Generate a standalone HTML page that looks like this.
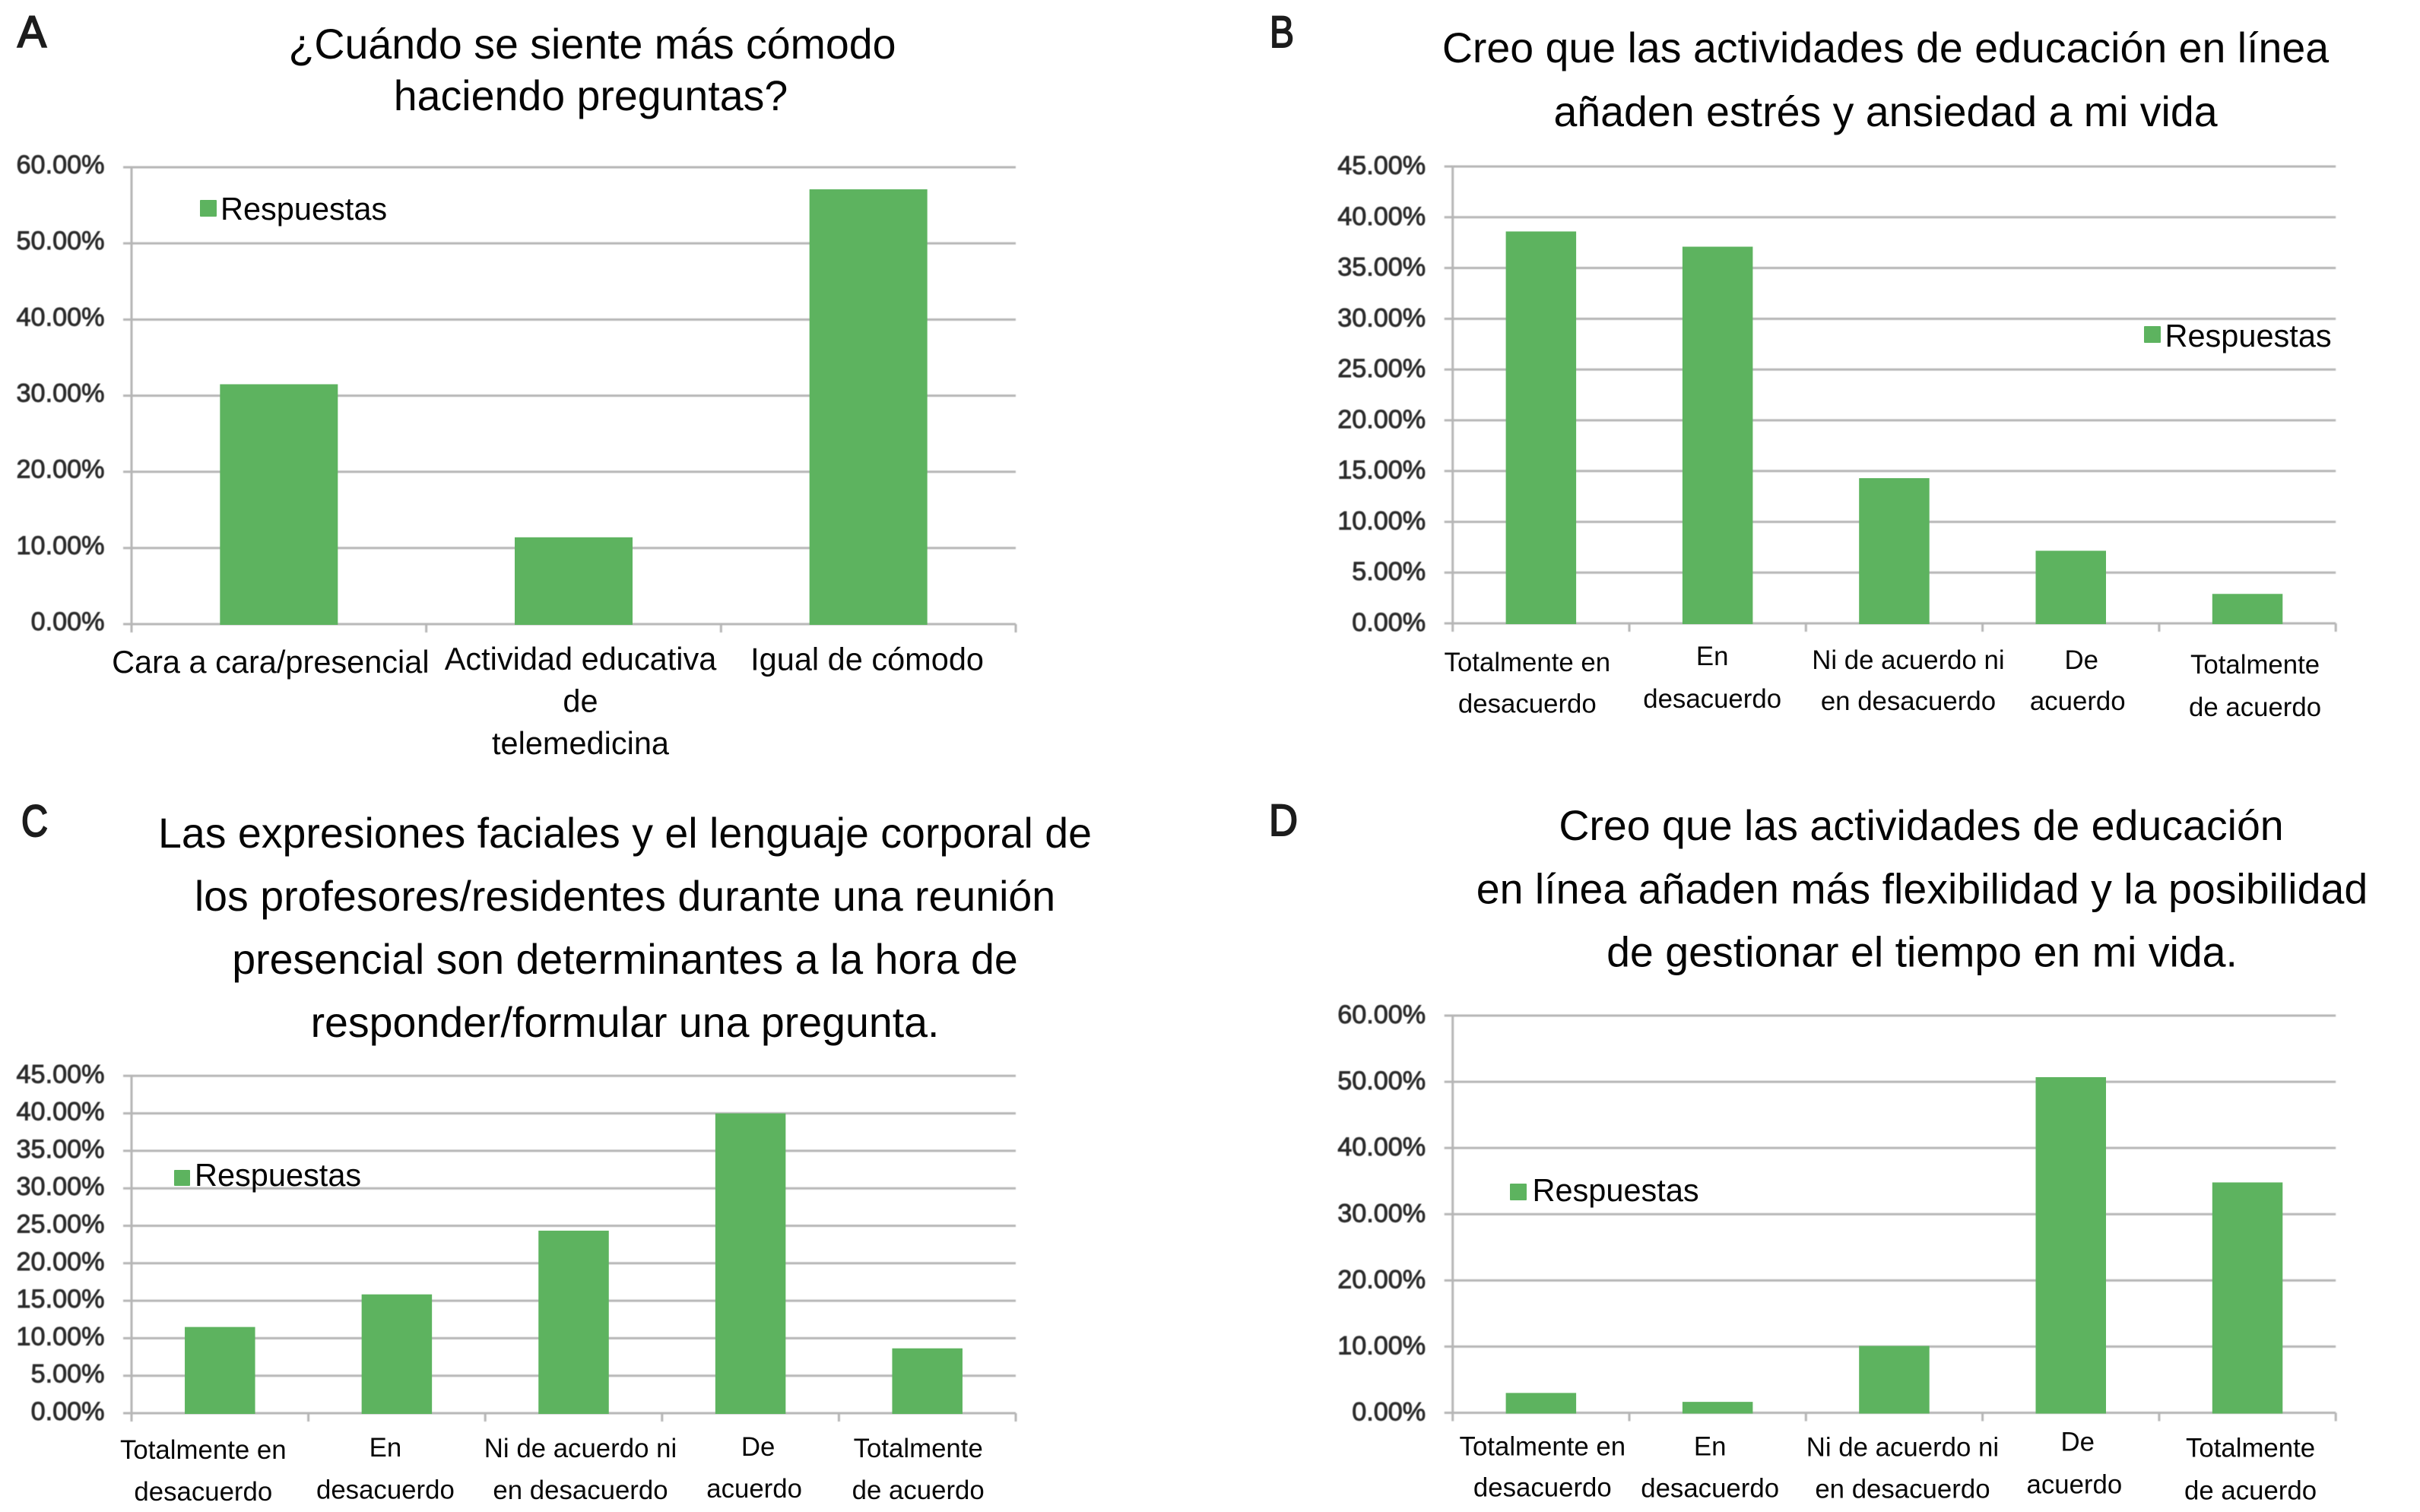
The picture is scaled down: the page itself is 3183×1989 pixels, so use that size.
<!DOCTYPE html>
<html lang="es">
<head>
<meta charset="utf-8">
<title>Encuesta de educación en línea</title>
<style>
html,body{margin:0;padding:0;background:#fff;width:3183px;height:1989px;overflow:hidden}
svg{display:block;font-family:"Liberation Sans",Arial,sans-serif}
.title{font-size:55.5px;fill:#050505;text-anchor:middle}
.panel{font-size:58px;fill:#1c1c1c;stroke:#1c1c1c;stroke-width:2px}
.legend{font-size:41.5px;fill:#050505}
.cat{fill:#080808;text-anchor:middle}
.tick{font-size:34.2px;fill:#2b2b2b;stroke:#2b2b2b;stroke-width:.9px;text-anchor:end}
.soft{filter:blur(.6px)}
</style>
</head>
<body>
<svg id="figure" xmlns="http://www.w3.org/2000/svg" width="3183" height="1989" viewBox="0 0 3183 1989">
  <rect x="0" y="0" width="3183" height="1989" fill="#fff"/>

  <g id="chart-a"></g>
  <g id="chart-b"></g>
  <g id="chart-c"></g>
  <g id="chart-d"></g>

  <text class="panel" x="23" y="62" textLength="38" lengthAdjust="spacingAndGlyphs">A</text>
  <text class="panel" x="1670" y="62" textLength="32" lengthAdjust="spacingAndGlyphs">B</text>
  <text class="panel" x="28" y="1100" textLength="35" lengthAdjust="spacingAndGlyphs">C</text>
  <text class="panel" x="1669" y="1099" textLength="38" lengthAdjust="spacingAndGlyphs">D</text>

  <g>
    <text class="title" x="779" y="77">¿Cuándo se siente más cómodo</text>
    <text class="title" x="777" y="145">haciendo preguntas?</text>
  </g>
  <g>
    <text class="title" x="2480" y="82">Creo que las actividades de educación en línea</text>
    <text class="title" x="2480" y="166">añaden estrés y ansiedad a mi vida</text>
  </g>
  <g>
    <text class="title" x="822" y="1115">Las expresiones faciales y el lenguaje corporal de</text>
    <text class="title" x="822" y="1198">los profesores/residentes durante una reunión</text>
    <text class="title" x="822" y="1281">presencial son determinantes a la hora de</text>
    <text class="title" x="822" y="1364">responder/formular una pregunta.</text>
  </g>
  <g>
    <text class="title" x="2527" y="1105">Creo que las actividades de educación</text>
    <text class="title" x="2528" y="1188.5">en línea añaden más flexibilidad y la posibilidad</text>
    <text class="title" x="2528" y="1271.5">de gestionar el tiempo en mi vida.</text>
  </g>

  <g>
    <rect x="263" y="263" width="22" height="22" rx="1" fill="#5DB35F"/>
    <text class="legend" x="290" y="289">Respuestas</text>
  </g>
  <g>
    <rect x="2820" y="429" width="22" height="22" rx="1" fill="#5DB35F"/>
    <text class="legend" x="2847.5" y="456">Respuestas</text>
  </g>
  <g>
    <rect x="229" y="1539" width="21" height="21" rx="1" fill="#5DB35F"/>
    <text class="legend" x="256" y="1560">Respuestas</text>
  </g>
  <g>
    <rect x="1986" y="1557" width="22" height="22" rx="1" fill="#5DB35F"/>
    <text class="legend" x="2015.5" y="1580">Respuestas</text>
  </g>
</svg>

<script>
const chartACategories = [['Cara a cara/presencial'], ['Actividad educativa', 'de', 'telemedicina'], ['Igual de cómodo']];
const chartAValues = [31.5, 11.4, 57.1];
const chartATickLabels = ['0.00%', '10.00%', '20.00%', '30.00%', '40.00%', '50.00%', '60.00%'];

const chartBCategories = [['Totalmente en', 'desacuerdo'], ['En', 'desacuerdo'], ['Ni de acuerdo ni', 'en desacuerdo'], ['De', 'acuerdo'], ['Totalmente', 'de acuerdo']];
const chartBValues = [38.6, 37.1, 14.3, 7.15, 2.9];
const chartBTickLabels = ['0.00%', '5.00%', '10.00%', '15.00%', '20.00%', '25.00%', '30.00%', '35.00%', '40.00%', '45.00%'];

const chartCCategories = [['Totalmente en', 'desacuerdo'], ['En', 'desacuerdo'], ['Ni de acuerdo ni', 'en desacuerdo'], ['De', 'acuerdo'], ['Totalmente', 'de acuerdo']];
const chartCValues = [11.5, 15.85, 24.35, 40.0, 8.65];
const chartCTickLabels = ['0.00%', '5.00%', '10.00%', '15.00%', '20.00%', '25.00%', '30.00%', '35.00%', '40.00%', '45.00%'];

const chartDCategories = [['Totalmente en', 'desacuerdo'], ['En', 'desacuerdo'], ['Ni de acuerdo ni', 'en desacuerdo'], ['De', 'acuerdo'], ['Totalmente', 'de acuerdo']];
const chartDValues = [3.0, 1.65, 10.1, 50.7, 34.8];
const chartDTickLabels = ['0.00%', '10.00%', '20.00%', '30.00%', '40.00%', '50.00%', '60.00%'];

const SVG_NS = 'http://www.w3.org/2000/svg';

function make(tag, attrs, parent) {
  const el = document.createElementNS(SVG_NS, tag);
  Object.keys(attrs).forEach(function (k) { el.setAttribute(k, attrs[k]); });
  parent.appendChild(el);
  return el;
}

function drawChart(id, categories, values, tickLabels, box, labelNudges) {
  const root = document.getElementById(id);
  const ticks = tickLabels.map(function (t) { return parseFloat(t); });
  const maxTick = Math.max.apply(null, ticks);
  const yScale = function (v) { return box.bottom - (v / maxTick) * (box.bottom - box.top); };
  const band = (box.right - box.left) / categories.length;
  const xCenter = function (i) { return box.left + band * (i + 0.5); };

  const gridGroup = make('g', { 'class': 'soft' }, root);
  
  
  ticks.forEach(function (t) {
    const line = make('line', { x1: box.left - 11, x2: box.right, y1: yScale(t), y2: yScale(t), stroke: '#b6b6b6', 'stroke-width': 3 }, gridGroup);
    
    
  });

  const axisGroup = make('g', { 'class': 'soft' }, root);
  
  
  const yAxis = make('line', { x1: box.left, x2: box.left, y1: box.top, y2: box.bottom + 11, stroke: '#b6b6b6', 'stroke-width': 3 }, axisGroup);
  
  
  for (let i = 1; i <= categories.length; i++) {
    const x = box.left + band * i;
    const tick = make('line', { x1: x, x2: x, y1: box.bottom, y2: box.bottom + 11, stroke: '#b6b6b6', 'stroke-width': 3 }, axisGroup);
    
    
  }

  const barGroup = make('g', {}, root);
  
  
  values.forEach(function (v, i) {
    const bar = make('rect', { x: xCenter(i) - box.barWidth / 2, y: yScale(v), width: box.barWidth, height: box.bottom - yScale(v) + 1, fill: '#5DB35F' }, barGroup);
    
    
  });

  const tickGroup = make('g', { 'class': 'soft' }, root);
  
  
  tickLabels.forEach(function (label, i) {
    const text = make('text', { 'class': 'tick', x: box.left - 35.5, y: yScale(ticks[i]) + box.tickDy }, tickGroup);
    
    
    text.textContent = label;
  });

  const catGroup = make('g', {}, root);
  
  
  categories.forEach(function (lines, i) {
    lines.forEach(function (line, j) {
      const nudge = labelNudges[i][j];
      const text = make('text', { 'class': 'cat', 'font-size': box.catSize, x: xCenter(i) + nudge[0], y: box.bottom + nudge[1] + box.catDy }, catGroup);
      
      
      text.textContent = line;
    });
  });
}

drawChart('chart-a', chartACategories, chartAValues, chartATickLabels,
  { left: 173, right: 1336, top: 220, bottom: 821, barWidth: 155, catSize: 41.5, tickDy: 8, catDy: 0 },
  [[[-11, 64]], [[9, 60], [9, 115.6], [9, 171]], [[-1.6, 60.5]]]);

drawChart('chart-b', chartBCategories, chartBValues, chartBTickLabels,
  { left: 1910.7, right: 3072.2, top: 219, bottom: 820, barWidth: 92.5, catSize: 34.8, tickDy: 10, catDy: 1 },
  [[[-18, 62], [-18, 116.5]], [[-7, 54], [-7, 110]], [[18.5, 59], [18.5, 113]], [[14, 59], [9, 113]], [[10, 65], [10, 121]]]);

drawChart('chart-c', chartCCategories, chartCValues, chartCTickLabels,
  { left: 173, right: 1336, top: 1415.3, bottom: 1859, barWidth: 92.5, catSize: 34.8, tickDy: 9, catDy: 0 },
  [[[-22, 60], [-22, 115]], [[-15, 57], [-15, 112.5]], [[9, 58], [9, 113]], [[10, 56], [5, 111]], [[-12, 58], [-12, 113]]]);

drawChart('chart-d', chartDCategories, chartDValues, chartDTickLabels,
  { left: 1910.7, right: 3072.2, top: 1336, bottom: 1858.5, barWidth: 92.5, catSize: 34.8, tickDy: 10, catDy: 1 },
  [[[2, 55], [2, 109]], [[-10, 55], [-10, 110]], [[11, 56], [11, 111]], [[9, 49], [4.6, 105]], [[4, 57], [4, 113]]]);
</script>
</body>
</html>
